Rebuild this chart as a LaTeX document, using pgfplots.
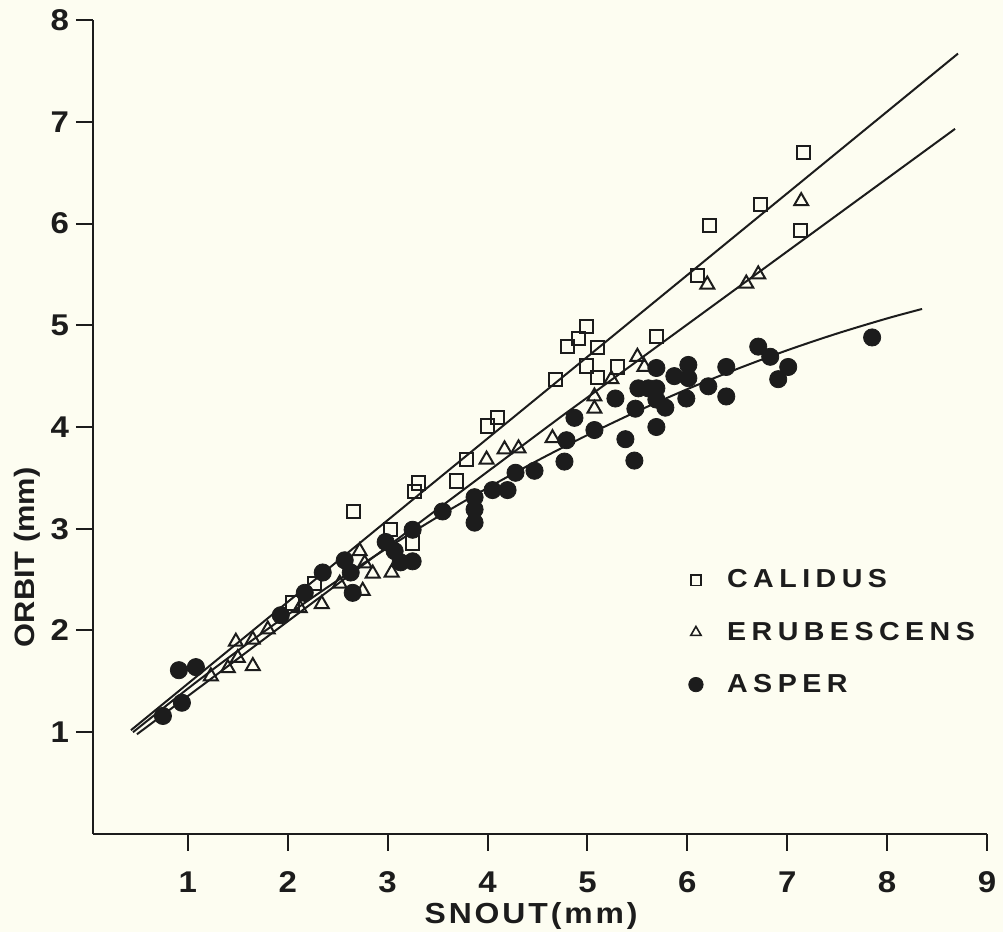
\documentclass[border=0pt]{standalone}
\usepackage{fontspec}
\setmainfont{Liberation Sans}[FakeStretch=1.1]
\usepackage{pgfplots}
\pgfplotsset{compat=1.18}
\definecolor{paper}{RGB}{253,253,241}
\definecolor{ink}{RGB}{28,28,28}
\begin{document}
\begin{tikzpicture}
\fill[paper] (-46.5pt,-49pt) rectangle (455pt,417pt);
\begin{axis}[
  scale only axis,
  width=447pt, height=407pt,
  xmin=0.05, xmax=9, ymin=0, ymax=8,
  axis x line*=bottom, axis y line*=left,
  axis line style={line width=1pt, draw=ink},
  xtick={1,...,9}, ytick={1,...,8},
  tick align=outside, major tick length=8.5pt,
  tick style={line width=1pt, draw=ink},
  /pgf/number format/assume math mode=true,
  ticklabel style={font=\bfseries\fontsize{15}{15}\selectfont, text=ink},
  xticklabel style={inner sep=1pt, yshift=-9pt},
  xlabel={SNOUT(mm)}, ylabel={ORBIT (mm)},
  xlabel style={font=\bfseries\fontsize{14.5}{14.5}\selectfont\addfontfeature{LetterSpace=10}, text=ink,
    inner sep=0pt, at={(axis description cs:0.49,-0.101)}, anchor=center},
  ylabel style={font=\bfseries\fontsize{14}{14}\selectfont, text=ink,
    at={(axis description cs:-0.074,0.34)}, anchor=center},
  legend style={at={(axis cs:5.95,2.68)}, anchor=north west, draw=none, fill=none,
    font=\bfseries\fontsize{13}{13}\selectfont\addfontfeature{LetterSpace=21},
    text=ink, row sep=11.5pt, cells={anchor=west},
    /tikz/every odd column/.append style={column sep=10pt}},
]
% fitted lines
\addplot[ink, line width=1pt, no marks, forget plot] coordinates {(0.43,1.02) (8.71,7.67)};
\addplot[ink, line width=1pt, no marks, forget plot] coordinates {(0.49,0.98) (4.72,4.09) (8.68,6.93)};
\addplot[ink, line width=1pt, no marks, smooth, forget plot] coordinates {
(0.45,1.000) (1,1.429) (1.5,1.801) (2,2.155) (2.5,2.493) (3,2.813) (3.5,3.116) (4,3.401)
(4.5,3.670) (5,3.921) (5.5,4.155) (6,4.372) (6.5,4.571) (7,4.754) (7.5,4.919) (8,5.067) (8.35,5.160)};
% CALIDUS
\addplot[only marks, mark=square, mark size=3.3pt, mark options={line width=1pt, draw=ink}, forget plot] coordinates {
(2.05,2.27) (2.27,2.46) (2.66,3.17) (3.03,2.99) (3.25,2.86) (3.27,3.37) (3.31,3.45) (3.69,3.47)
(3.79,3.68) (4.00,4.01) (4.10,4.09) (4.68,4.47) (4.80,4.79) (4.91,4.87) (4.99,4.99) (5.10,4.78)
(4.99,4.60) (5.10,4.49) (5.30,4.59) (5.69,4.89) (6.10,5.49) (6.22,5.98) (6.73,6.19) (7.13,5.93) (7.16,6.70)};
% ERUBESCENS
\addplot[only marks, mark=triangle, mark size=4pt, mark options={line width=1pt, draw=ink}, forget plot] coordinates {
(1.23,1.55) (1.40,1.63) (1.50,1.73) (1.65,1.65) (1.48,1.89) (1.65,1.91) (1.80,2.01) (2.12,2.22)
(2.34,2.26) (2.52,2.46) (2.72,2.78) (2.77,2.66) (2.75,2.39) (2.85,2.56) (3.04,2.57) (3.99,3.68)
(4.17,3.78) (4.31,3.79) (4.65,3.89) (5.07,4.30) (5.07,4.18) (5.24,4.47) (5.50,4.69) (5.57,4.59)
(6.20,5.40) (6.59,5.41) (6.71,5.50) (7.14,6.22)};
% ASPER
\addplot[only marks, mark=*, mark size=4.3pt, mark options={fill=ink, draw=ink}, forget plot] coordinates {
(0.75,1.16) (0.94,1.29) (0.91,1.61) (1.08,1.64) (1.93,2.15) (2.17,2.37) (2.35,2.57) (2.57,2.69)
(2.63,2.57) (2.65,2.37) (2.98,2.87) (3.07,2.78) (3.13,2.67) (3.25,2.68) (3.25,2.99) (3.55,3.17)
(3.87,3.31) (3.87,3.19) (3.87,3.06) (4.05,3.38) (4.20,3.38) (4.28,3.55) (4.47,3.57) (4.77,3.66)
(4.79,3.87) (4.87,4.09) (5.07,3.97) (5.28,4.28) (5.38,3.88) (5.47,3.67) (5.48,4.18) (5.51,4.38)
(5.61,4.38) (5.69,4.38) (5.69,4.58) (5.69,4.27) (5.78,4.19) (5.69,4.00) (5.87,4.50) (6.01,4.61)
(6.01,4.48) (5.99,4.28) (6.21,4.40) (6.39,4.59) (6.39,4.30) (6.71,4.79) (6.83,4.69) (7.01,4.59)
(6.91,4.47) (7.85,4.88)};
\addlegendimage{only marks, mark=square, mark size=2.6pt, mark options={line width=0.8pt, draw=ink}}
\addlegendentry{CALIDUS}
\addlegendimage{only marks, mark=triangle, mark size=3pt, mark options={line width=0.8pt, draw=ink}}
\addlegendentry{ERUBESCENS}
\addlegendimage{only marks, mark=*, mark size=3.6pt, mark options={fill=ink, draw=ink}}
\addlegendentry{ASPER}
\end{axis}
\pgfresetboundingbox
\path (-46.5pt,-49pt) rectangle (455pt,417pt);
\end{tikzpicture}
\end{document}
